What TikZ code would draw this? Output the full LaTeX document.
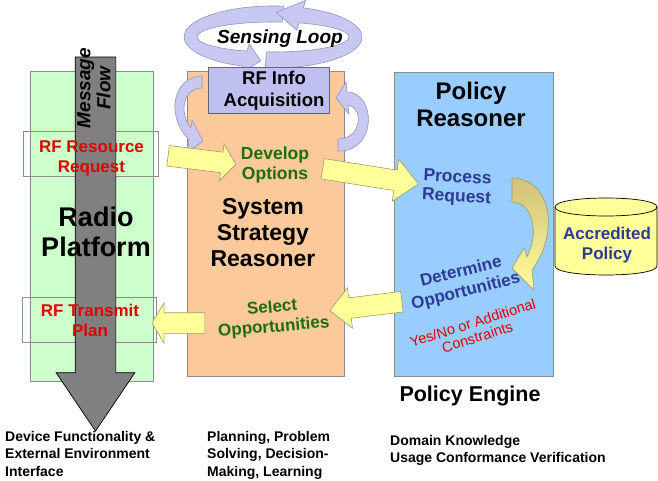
\documentclass[tikz,border=0pt]{standalone}
\usepackage{fontspec}
\setmainfont{Liberation Sans}
\usetikzlibrary{shapes.arrows}

\definecolor{radiogreen}{HTML}{CCFFCC}
\definecolor{strategyorange}{HTML}{FBC99A}
\definecolor{policyblue}{HTML}{99CCFF}
\definecolor{loopviolet}{HTML}{C8C8F2}
\definecolor{loopedge}{HTML}{9494C4}
\definecolor{infoviolet}{HTML}{C0C0F0}
\definecolor{flowyellow}{HTML}{FFFF99}
\definecolor{flowedge}{HTML}{9C9C6C}
\definecolor{olivearrow}{HTML}{D2C07A}
\definecolor{reqred}{HTML}{E00000}
\definecolor{optgreen}{HTML}{1E6E0A}
\definecolor{reqblue}{HTML}{2E3A96}

\newcommand{\fsz}[2]{\fontsize{#1}{#2}\selectfont}

\tikzstyle{panel} = [draw=gray!90, line width=0.6pt]
\tikzstyle{msgbox} = [draw=gray!90, line width=0.5pt]
\tikzstyle{yellowarrow} = [single arrow, draw=flowedge, fill=flowyellow, line width=0.6pt, inner sep=0pt, text height=20pt, text depth=0pt, single arrow head indent=0pt]
\tikzstyle{loopband} = [draw=loopedge, fill=loopviolet, line width=0.6pt, line join=round]
\tikzstyle{heading} = [align=center, inner sep=0pt, font=\bfseries]
\tikzstyle{note} = [align=left, inner sep=0pt, anchor=north west, font={\fsz{14}{17.5}\bfseries}]

\begin{document}
\begin{tikzpicture}[x=1pt, y=-1pt]
\useasboundingbox (0,0) rectangle (658,481);

\filldraw[panel, fill=radiogreen] (30,71) rectangle (153,381);
\filldraw[panel, fill=strategyorange] (187,71) rectangle (344,376);
\filldraw[panel, fill=policyblue] (394,72) rectangle (553,376);

\draw[msgbox] (23,131) rectangle (158,176);
\draw[msgbox] (22,297) rectangle (156,342);

\node[single arrow, draw=black, fill=gray, line width=0.7pt, inner sep=0pt, text height=40pt, text depth=0pt,
  single arrow head indent=0pt, single arrow head extend=19, single arrow tip angle=68,
  minimum height=374, rotate=-90] (flow) at (95.5,229) {};

\draw[loopband] (284,6.2) arc[start angle=-83, end angle=-250, x radius=89, y radius=31]
  -- (240.4,73.6) -- (260.7,60.8) -- (249.2,43.6) -- (247,51.1)
  arc[start angle=-250, end angle=-83, x radius=76, y radius=15] -- cycle;
\draw[loopband] (265.2,67.9) arc[start angle=95, end angle=-70, x radius=89, y radius=31]
  -- (305.6,0.4) -- (276.4,12.3) -- (296.8,30.4) -- (299,22.9)
  arc[start angle=-70, end angle=95, x radius=76, y radius=15] -- cycle;

\draw[loopband] (202,76) .. controls (176,76) and (163,112) .. (189,140)
  -- (187,153) -- (203,141) -- (192,120) -- (191,128)
  .. controls (178,112) and (184,88) .. (202,88) -- cycle;
\draw[loopband] (338,151) .. controls (378,152) and (376,92) .. (347,92)
  -- (346,82) -- (336,98) -- (349,114) -- (348,105)
  .. controls (364,108) and (362,139) .. (338,139) -- cycle;

\node[draw=gray!80!black, fill=infoviolet, line width=0.6pt, minimum width=121, minimum height=46] (rfinfo) at (268.5,90) {};

\node[yellowarrow, minimum height=68.4, single arrow head extend=8,
  single arrow tip angle=104, rotate=-7] (reqarrow) at (198,159.5) {};
\node[yellowarrow, minimum height=97, single arrow head extend=11,
  single arrow tip angle=85, rotate=-9] (optarrow) at (365,175.5) {};
\node[yellowarrow, minimum height=72.6, single arrow head extend=10,
  single arrow tip angle=90, rotate=187] (selarrow) at (371,305.5) {};
\node[yellowarrow, minimum height=53, single arrow head extend=10,
  single arrow tip angle=118, rotate=180] (planarrow) at (181.5,323) {};

\draw[draw=flowedge, line width=0.6pt, line join=round, top color=olivearrow, bottom color=flowyellow]
  (512,178) .. controls (548,178) and (562,228) .. (532,270)
  -- (534,290) -- (512,268) -- (524,248) -- (527,257)
  .. controls (540,232) and (532,202) .. (512,202) -- cycle;

\filldraw[draw=black, line width=0.7pt, fill=flowyellow]
  (555,207) -- (555,266) .. controls (555,278) and (657,278) .. (657,266)
  -- (657,207) .. controls (657,195) and (555,195) .. (555,207) -- cycle;
\draw[line width=0.7pt] (555,207) .. controls (555,219) and (657,219) .. (657,207);

\node[heading, font={\fsz{19}{20}\bfseries\itshape}] (loop) at (280,39) {Sensing Loop};
\node[heading, font={\fsz{18.5}{22}\bfseries}] (rfinfotxt) at (274,91) {RF Info\\Acquisition};
\node[heading, font={\fsz{19}{20}\bfseries\itshape}, rotate=90] (msg) at (94,88) {Message\\Flow};

\node[heading, font={\fsz{17}{20}\bfseries}, text=reqred] (resreq) at (91.5,158) {RF Resource\\Request};
\node[heading, font={\fsz{27}{30}\bfseries}] (radio) at (96,231.5) {Radio\\Platform};
\node[heading, font={\fsz{17}{20}\bfseries}, text=reqred] (txplan) at (90,320.5) {RF Transmit\\Plan};

\node[heading, font={\fsz{17.5}{19.5}\bfseries}, text=optgreen] (develop) at (275,165) {Develop\\Options};
\node[heading, font={\fsz{23}{26}\bfseries}] (strategy) at (263,233) {System\\Strategy\\Reasoner};
\node[heading, font={\fsz{17}{19.5}\bfseries}, text=optgreen, rotate=5] (select) at (273,318) {Select\\Opportunities};

\node[heading, font={\fsz{24}{27}\bfseries}] (reasoner) at (471,104) {Policy\\Reasoner};
\node[heading, font={\fsz{17.5}{19}\bfseries}, text=reqblue, rotate=-3] (process) at (457,188) {Process\\Request};
\node[heading, font={\fsz{17}{20}\bfseries}, text=reqblue, rotate=14] (determine) at (463.5,282) {Determine\\Opportunities};
\node[align=center, inner sep=0pt, font={\fsz{14.5}{15}}, text=reqred, rotate=17.5] (answer) at (475,330) {Yes/No or Additional\\Constraints};
\node[heading, font={\fsz{17}{20}\bfseries}, text=reqblue] (accredited) at (607,245) {Accredited\\Policy};
\node[heading, font={\fsz{21.5}{24}\bfseries}] (engine) at (470,396) {Policy Engine};

\node[note] (device) at (5,431) {Device Functionality \&\\External Environment\\Interface};
\node[note] (planning) at (207,431) {Planning, Problem\\Solving, Decision-\\Making, Learning};
\node[note] (domain) at (390,435) {Domain Knowledge\\Usage Conformance Verification};

\end{tikzpicture}
\end{document}
